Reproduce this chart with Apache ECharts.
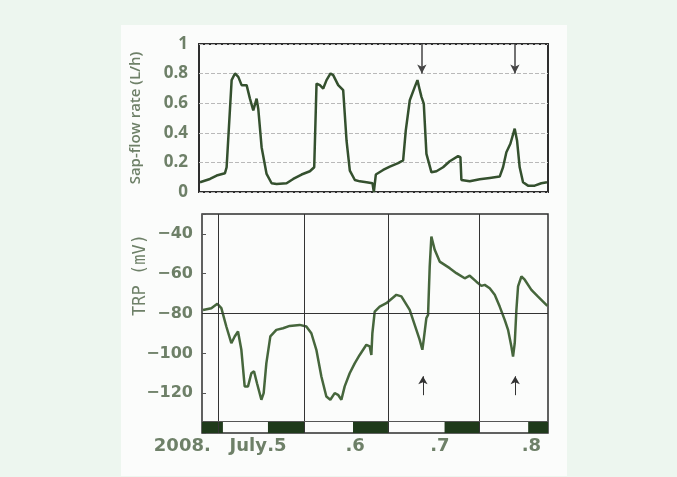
<!DOCTYPE html>
<html>
<head>
<meta charset="utf-8">
<script src="https://cdn.jsdelivr.net/npm/echarts@6/dist/echarts.min.js"></script>
<style>
  html, body { margin: 0; padding: 0; background: #edf6ef; }
  #chart { width: 677px; height: 477px; }
</style>
</head>
<body>
<div id="chart"></div>
<script>
// hours since the left edge of the record (4 days shown)
const sapHours = [0.27, 3.02, 4.85, 7.14, 7.6, 8.34, 8.98, 9.89, 10.81, 11.72, 13.1, 14.01, 14.93, 15.85, 16.3, 17.22, 18.59, 19.97, 21.34, 24.09, 25.92, 28.21, 30.5, 31.69, 32.33, 33.25, 34.17, 35.08, 36.18, 36.91, 38.29, 39.66, 40.58, 41.49, 42.87, 44.24, 46.07, 47.72, 48.09, 48.64, 50.65, 52.49, 54.78, 56.15, 56.88, 57.98, 59.36, 60.09, 60.73, 61.19, 61.83, 62.56, 63.94, 65.31, 67.14, 68.97, 71.26, 71.91, 72.18, 74.47, 77.22, 79.97, 82.71, 83.63, 84.55, 85.65, 86.84, 87.48, 88.21, 89.13, 90.5, 92.33, 94.16, 95.72];
const sapRate = [0.066, 0.088, 0.111, 0.127, 0.167, 0.484, 0.756, 0.801, 0.778, 0.722, 0.722, 0.631, 0.552, 0.631, 0.563, 0.303, 0.122, 0.059, 0.054, 0.059, 0.088, 0.118, 0.14, 0.167, 0.733, 0.722, 0.699, 0.756, 0.801, 0.79, 0.722, 0.688, 0.348, 0.145, 0.081, 0.072, 0.066, 0.059, 0.0, 0.118, 0.149, 0.172, 0.195, 0.213, 0.416, 0.62, 0.71, 0.756, 0.688, 0.643, 0.597, 0.258, 0.133, 0.14, 0.167, 0.208, 0.242, 0.235, 0.081, 0.072, 0.086, 0.095, 0.104, 0.167, 0.269, 0.326, 0.428, 0.348, 0.167, 0.066, 0.043, 0.043, 0.059, 0.066];

const trpHours = [0.28, 2.59, 4.26, 5.37, 6.75, 8.14, 9.07, 9.99, 10.92, 11.84, 12.77, 13.69, 14.43, 15.26, 16.47, 17.11, 17.85, 18.96, 20.63, 22.48, 24.33, 27.1, 28.95, 30.34, 31.73, 33.12, 34.5, 35.61, 36.82, 37.74, 38.67, 39.59, 40.98, 42.37, 43.75, 45.6, 46.53, 46.99, 47.27, 47.92, 49.3, 51.15, 53.93, 55.32, 57.63, 59.48, 60.4, 61.14, 61.51, 62.25, 62.72, 63.18, 63.64, 64.57, 65.95, 68.73, 70.58, 72.89, 74.28, 76.13, 77.52, 78.44, 79.83, 81.22, 82.6, 83.99, 84.92, 85.84, 86.3, 86.77, 87.23, 87.69, 88.62, 89.54, 91.39, 93.24, 94.63, 95.83];
const trpValue = [-78.2, -77.3, -75.1, -77.3, -86.5, -94.9, -91.5, -89.0, -98.2, -116.6, -116.6, -110.0, -109.0, -115.0, -123.3, -120.0, -105.0, -91.5, -88.2, -87.4, -86.2, -85.7, -86.5, -89.9, -98.2, -111.6, -121.7, -123.3, -120.0, -120.8, -123.3, -116.6, -110.0, -105.0, -100.8, -95.7, -96.5, -100.8, -89.9, -79.0, -76.5, -74.8, -70.6, -71.4, -78.2, -88.2, -93.2, -98.2, -93.2, -82.3, -80.7, -56.4, -41.3, -48.0, -53.9, -57.2, -59.7, -62.3, -61.0, -64.0, -66.1, -65.6, -67.3, -70.6, -76.5, -83.2, -88.2, -96.6, -101.6, -94.9, -78.2, -66.4, -61.4, -63.0, -68.1, -71.5, -74.0, -76.2];

const dayLines = [4.6, 28.3, 51.6, 76.9];
const nightStart = [0, 18.3, 41.9, 67.3, 90.5];
const nightEnd = [5.8, 28.5, 51.6, 77.0, 96];
const arrowHours = [61.3, 86.9];
const dayLabelHours = [20.8, 42.5, 66.0, 91.4];
const dayLabels = ['.5', '.6', '.7', '.8'];

const labelColor = '#6e8068';
const lineColor = '#34502e';
const frameColor = '#2e2e2e';

const chart = echarts.init(document.getElementById('chart'));

const option = {
  backgroundColor: '#edf6ef',
  animation: false,
  graphic: [
    {
      type: 'rect',
      z: -100,
      shape: { x: 121, y: 25, width: 446, height: 451 },
      style: { fill: '#fbfcfb' }
    },
    {
      type: 'text',
      x: 141, y: 275,
      rotation: Math.PI / 2,
      style: {
        text: 'TRP (mV)',
        fill: labelColor,
        font: '17px "DejaVu Sans Mono"',
        textAlign: 'center',
        textVerticalAlign: 'middle'
      }
    },
    {
      type: 'text',
      x: 267, y: 446,
      style: {
        text: '2008.   July',
        fill: labelColor,
        font: 'bold 18px "DejaVu Sans"',
        textAlign: 'right',
        textVerticalAlign: 'middle'
      }
    }
  ],
  grid: [
    { left: 199, right: 129, top: 44, height: 148, show: true, borderColor: frameColor, borderWidth: 2, backgroundColor: 'transparent' },
    { left: 202, right: 129, top: 214, height: 219, show: true, borderColor: frameColor, borderWidth: 1.5, backgroundColor: 'transparent' }
  ],
  xAxis: [
    {
      gridIndex: 0, type: 'value', min: 0, max: 96,
      axisLine: { show: false }, axisTick: { show: false },
      axisLabel: { show: false }, splitLine: { show: false }
    },
    {
      gridIndex: 1, type: 'value', min: 0, max: 96,
      axisLine: { show: false }, axisTick: { show: false }, splitLine: { show: false },
      axisLabel: {
        customValues: dayLabelHours,
        formatter: v => dayLabels[dayLabelHours.indexOf(v)] || '',
        color: labelColor,
        fontFamily: 'DejaVu Sans',
        fontWeight: 'bold',
        fontSize: 18,
        margin: 4
      }
    }
  ],
  yAxis: [
    {
      gridIndex: 0, type: 'value', min: 0, max: 1, interval: 0.2,
      name: 'Sap-flow rate (L/h)',
      nameLocation: 'middle',
      nameGap: 56,
      nameTextStyle: { color: labelColor, fontSize: 15, fontFamily: 'Open Sans', fontWeight: 600 },
      axisLine: { show: false }, axisTick: { show: false },
      axisLabel: { color: labelColor, fontSize: 17, fontFamily: 'Open Sans', fontWeight: 'bold', margin: 11 },
      splitLine: { show: true, lineStyle: { color: '#b9b9b9', type: [4, 2], width: 1 } }
    },
    {
      gridIndex: 1, type: 'value', min: -140, max: -30, interval: 20,
      axisLine: { show: false },
      axisTick: { show: true, inside: true, length: 4, lineStyle: { color: '#555' } },
      axisLabel: {
        formatter: v => (v <= -40 && v >= -120) ? '\u2212' + Math.abs(v) : '',
        color: labelColor, fontSize: 16, fontFamily: 'DejaVu Sans', fontWeight: 'bold', margin: 9
      },
      splitLine: { show: false }
    }
  ],
  series: [
    {
      name: 'Sap-flow rate',
      type: 'line',
      xAxisIndex: 0, yAxisIndex: 0,
      data: sapHours.map((h, i) => [h, sapRate[i]]),
      showSymbol: false,
      lineStyle: { color: lineColor, width: 2.5 },
      z: 3,
      markLine: {
        silent: true,
        symbol: ['none', 'arrow'],
        symbolSize: [7, 9],
        label: { show: false },
        lineStyle: { color: '#444', width: 1.5, type: 'solid' },
        data: arrowHours.map(h => [{ coord: [h, 1] }, { coord: [h, 0.8] }])
      }
    },
    {
      name: 'TRP',
      type: 'line',
      xAxisIndex: 1, yAxisIndex: 1,
      data: trpHours.map((h, i) => [h, trpValue[i]]),
      showSymbol: false,
      lineStyle: { color: '#46663c', width: 2.5 },
      z: 3,
      markLine: {
        silent: true,
        symbol: 'none',
        label: { show: false },
        lineStyle: { color: '#333', width: 1, type: 'solid' },
        data: [
          ...dayLines.map(h => ({ xAxis: h })),
          { yAxis: -80 },
          { yAxis: -134.2, lineStyle: { color: '#555', width: 1 } },
          ...arrowHours.map(h => [
            { coord: [h, -121], symbol: 'none' },
            { coord: [h, -111.5], symbol: 'arrow', symbolSize: [7, 8] }
          ])
        ]
      },
      markArea: {
        silent: true,
        itemStyle: { color: '#1f3a1b' },
        data: nightStart.map((s, i) => [{ coord: [s, -140] }, { coord: [nightEnd[i], -134.2] }])
      }
    }
  ]
};

chart.setOption(option);
</script>
</body>
</html>
